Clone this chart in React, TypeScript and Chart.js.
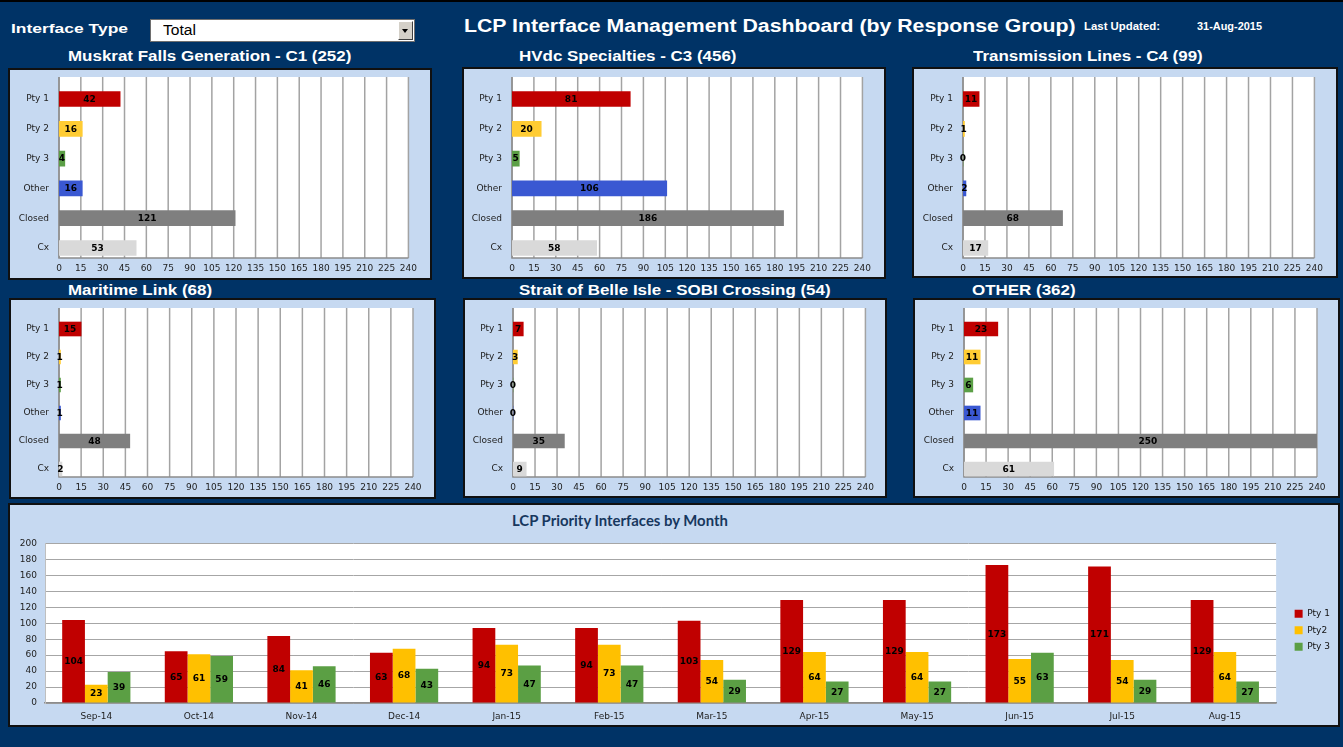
import React, { useEffect, useRef } from "react";
import { Chart, registerables } from "chart.js";

Chart.register(...registerables);

// ---------------- DATA ----------------
const CATEGORIES = ["Pty 1", "Pty 2", "Pty 3", "Other", "Closed", "Cx"];
const muskratFallsValues = [42, 16, 4, 16, 121, 53];
const hvdcValues = [81, 20, 5, 106, 186, 58];
const transmissionValues = [11, 1, 0, 2, 68, 17];
const maritimeValues = [15, 1, 1, 1, 48, 2];
const sobiValues = [7, 3, 0, 0, 35, 9];
const otherValues = [23, 11, 6, 11, 250, 61];
const X_MIN = 0;
const X_MAX = 240;
const X_STEP = 15;

const MONTHS = ["Sep-14", "Oct-14", "Nov-14", "Dec-14", "Jan-15", "Feb-15", "Mar-15", "Apr-15", "May-15", "Jun-15", "Jul-15", "Aug-15"];
const pty1Monthly = [104, 65, 84, 63, 94, 94, 103, 129, 129, 173, 171, 129];
const pty2Monthly = [23, 61, 41, 68, 73, 73, 54, 64, 64, 55, 54, 64];
const pty3Monthly = [39, 59, 46, 43, 47, 47, 29, 27, 27, 63, 29, 27];
const SERIES_NAMES = ["Pty 1", "Pty2", "Pty 3"];
const Y_MIN = 0;
const Y_MAX = 200;
const Y_STEP = 20;

// ---------------- STYLE ----------------
const NAVY = "#003366";
const PANEL_BG = "#C6D9F1";
const SMALL_COLORS = ["#C00000", "#FFCC33", "#5B9F46", "#3A58D2", "#7F7F7F", "#D9D9D9"];
const MONTH_COLORS = ["#C00000", "#FFC000", "#5B9F44"];
const CHART_FONT = "DejaVu Sans";
const HEAD_FONT = '"Liberation Sans", Arial, sans-serif';

const measureCtx: CanvasRenderingContext2D | null =
  typeof document !== "undefined" ? document.createElement("canvas").getContext("2d") : null;

function Txt(props: {
  text: string; x: number; base: number; size: number; weight?: string;
  family?: string; color?: string; width?: number; scale?: number;
}) {
  const { text, x, base, size, weight = "bold", family = HEAD_FONT, color = "#fff", width, scale } = props;
  let k = scale ?? 1;
  let asc = 0.905 * size;
  let desc = 0.212 * size;
  if (measureCtx) {
    measureCtx.font = `${weight} ${size}px ${family}`;
    const m = measureCtx.measureText(text);
    if (width && m.width > 0) k = width / m.width;
    if ((m as any).fontBoundingBoxAscent) {
      asc = (m as any).fontBoundingBoxAscent;
      desc = (m as any).fontBoundingBoxDescent;
    }
  }
  const top = base - ((size - (asc + desc)) / 2 + asc);
  return (
    <div
      style={{
        position: "absolute", left: x, top, fontFamily: family, fontWeight: weight as any,
        fontSize: size, lineHeight: `${size}px`, color, whiteSpace: "nowrap",
        transform: `scaleX(${k})`, transformOrigin: "left top",
      }}
    >
      {text}
    </div>
  );
}

// ---------------- PLUGINS ----------------
const plotFramePlugin = {
  id: "plotFrame",
  beforeDraw(chart: any, _args: any, opts: any) {
    const { ctx, chartArea } = chart;
    const xs = chart.scales.x;
    const top = opts.top;
    const bottom = opts.bottom;
    ctx.save();
    ctx.fillStyle = "#FFFFFF";
    ctx.fillRect(chartArea.left, top, chartArea.right - chartArea.left, bottom - top);
    ctx.strokeStyle = "#A3A3A3";
    ctx.lineWidth = 1.5;
    xs.ticks.forEach((t: any) => {
      const px = xs.getPixelForValue(t.value);
      ctx.beginPath();
      ctx.moveTo(px, top);
      ctx.lineTo(px, bottom);
      ctx.stroke();
    });
    ctx.strokeStyle = "#8C8C8C";
    ctx.beginPath();
    ctx.moveTo(chartArea.left, top);
    ctx.lineTo(chartArea.left, bottom);
    ctx.lineTo(chartArea.right, bottom);
    ctx.stroke();
    ctx.restore();
  },
};

const areaBgPlugin = {
  id: "areaBg",
  beforeDraw(chart: any) {
    const { ctx, chartArea } = chart;
    ctx.save();
    ctx.fillStyle = "#FFFFFF";
    ctx.fillRect(chartArea.left, chartArea.top, chartArea.right - chartArea.left, chartArea.bottom - chartArea.top);
    ctx.restore();
  },
};

const barLabelPlugin = {
  id: "barLabels",
  afterDatasetsDraw(chart: any, _args: any, opts: any) {
    const { ctx } = chart;
    const horizontal = chart.options.indexAxis === "y";
    ctx.save();
    ctx.font = opts.labelFont;
    ctx.fillStyle = "#000";
    ctx.textAlign = "center";
    ctx.textBaseline = "middle";
    chart.data.datasets.forEach((ds: any, di: number) => {
      const meta = chart.getDatasetMeta(di);
      meta.data.forEach((el: any, i: number) => {
        const v = ds.data[i];
        const x = horizontal ? (el.x + el.base) / 2 : el.x;
        const y = horizontal ? el.y : (el.y + el.base) / 2;
        ctx.fillText(String(v), x, y + 0.5);
      });
    });
    ctx.restore();
  },
};

// ---------------- SMALL PANELS ----------------
type Box = { x: number; y: number; w: number; h: number };
type PanelSpec = {
  title: string; values: number[]; box: Box; x0: number; x240: number;
  c0: number; c5: number; wt: number; wb: number; tickY: number; bt: number;
  titleX: number; titleBase: number;
};

const ROW1 = { c0: 99, c5: 248, wt: 77, wb: 258, tickY: 269, bt: 15, titleBase: 61 };
const ROW2 = { c0: 329, c5: 469, wt: 308, wb: 477, tickY: 488, bt: 14, titleBase: 295 };

const PANELS: PanelSpec[] = [
  { title: "Muskrat Falls Generation - C1 (252)", values: muskratFallsValues, box: { x: 8, y: 68, w: 424, h: 212 }, x0: 59, x240: 411, titleX: 68, ...ROW1 },
  { title: "HVdc Specialties - C3 (456)", values: hvdcValues, box: { x: 462, y: 67, w: 424, h: 212 }, x0: 512, x240: 863, titleX: 519, ...ROW1 },
  { title: "Transmission Lines - C4 (99)", values: transmissionValues, box: { x: 912, y: 67, w: 426, h: 211 }, x0: 963, x240: 1315, titleX: 973, ...ROW1 },
  { title: "Maritime Link (68)", values: maritimeValues, box: { x: 9, y: 298, w: 427, h: 201 }, x0: 59, x240: 413, titleX: 68, ...ROW2 },
  { title: "Strait of Belle Isle - SOBI Crossing (54)", values: sobiValues, box: { x: 463, y: 298, w: 424, h: 200 }, x0: 513, x240: 867, titleX: 519, ...ROW2 },
  { title: "OTHER (362)", values: otherValues, box: { x: 913, y: 298, w: 427, h: 200 }, x0: 964, x240: 1317, titleX: 972, ...ROW2 },
];

function SmallPanel({ spec }: { spec: PanelSpec }) {
  const ref = useRef<HTMLCanvasElement>(null);
  const { box } = spec;
  useEffect(() => {
    const { values, x0, x240, c0, c5, wt, wb, tickY, bt } = spec;
    const chart = new Chart(ref.current as HTMLCanvasElement, {
      type: "bar",
      data: {
        labels: CATEGORIES,
        datasets: [
          {
            data: values,
            backgroundColor: SMALL_COLORS,
            borderWidth: 0,
            barThickness: bt,
            clip: { left: 0, top: 12, right: 0, bottom: 12 } as any,
          },
        ],
      },
      options: {
        indexAxis: "y",
        animation: false,
        responsive: false,
        events: [],
        layout: { padding: { left: 0, top: c0 - box.y, right: box.x + box.w - x240, bottom: 0 } },
        plugins: {
          legend: { display: false },
          tooltip: { enabled: false },
          plotFrame: { top: wt - box.y, bottom: wb - box.y },
          barLabels: { labelFont: `bold 9px "${CHART_FONT}"` },
        } as any,
        scales: {
          x: {
            type: "linear",
            min: X_MIN,
            max: X_MAX,
            ticks: {
              stepSize: X_STEP, autoSkip: false, maxRotation: 0, padding: tickY - c5 - 6,
              color: "#222", font: { family: CHART_FONT, size: 9 },
            },
            grid: { display: false, drawTicks: false },
            border: { display: false },
            afterFit: (s: any) => { s.height = box.y + box.h - c5; },
          },
          y: {
            type: "category",
            offset: false,
            ticks: { padding: 10, color: "#222", font: { family: CHART_FONT, size: 9 } },
            grid: { display: false, drawTicks: false },
            border: { display: false },
            afterFit: (s: any) => { s.width = x0 - box.x; },
          },
        } as any,
      },
      plugins: [plotFramePlugin, barLabelPlugin],
    });
    return () => chart.destroy();
  }, []);
  return (
    <>
      <div style={{ position: "absolute", left: box.x, top: box.y, width: box.w, height: box.h }}>
        <div style={{ position: "absolute", left: 0, top: 0, width: box.w, height: box.h, background: PANEL_BG, border: "2px solid #101010", boxSizing: "border-box" }} />
        <canvas ref={ref} width={box.w} height={box.h} style={{ position: "absolute", left: 0, top: 0, width: box.w, height: box.h, display: "block" }} />
      </div>
      <Txt text={spec.title} x={spec.titleX} base={spec.titleBase} size={14} scale={1.21} />
    </>
  );
}

// ---------------- MONTHLY CHART ----------------
const MONTH_BOX = { x: 8, y: 503, w: 1332, h: 224 };
const MONTH_CANVAS = { x: 8, y: 530, w: 1332, h: 197 };

function MonthlyChart() {
  const ref = useRef<HTMLCanvasElement>(null);
  useEffect(() => {
    const seriesData = [pty1Monthly, pty2Monthly, pty3Monthly];
    const chart = new Chart(ref.current as HTMLCanvasElement, {
      type: "bar",
      data: {
        labels: MONTHS,
        datasets: seriesData.map((d, i) => ({
          label: SERIES_NAMES[i],
          data: d,
          backgroundColor: MONTH_COLORS[i],
          borderWidth: 0,
          categoryPercentage: 0.665,
          barPercentage: 1.0,
        })),
      },
      options: {
        animation: false,
        responsive: false,
        events: [],
        layout: { padding: { left: 0, top: 10, right: 0, bottom: 2 } },
        plugins: {
          tooltip: { enabled: false },
          legend: {
            display: true,
            position: "right",
            fullSize: false,
            align: "center",
            title: { display: true, text: " ", padding: 0, font: { size: 11.67 } },
            labels: {
              boxWidth: 8, boxHeight: 8, padding: 7.5, color: "#111",
              font: { family: CHART_FONT, size: 9 },
            },
          },
          barLabels: { labelFont: `bold 9px "${CHART_FONT}"` },
        } as any,
        scales: {
          x: {
            type: "category",
            ticks: { padding: 8, color: "#222", font: { family: CHART_FONT, size: 9 }, maxRotation: 0, autoSkip: false },
            grid: { display: false, drawTicks: false },
            border: { display: true, color: "#8C8C8C", width: 1.5 },
            afterFit: (s: any) => { s.height = 22; },
          },
          y: {
            type: "linear",
            min: Y_MIN,
            max: Y_MAX,
            ticks: { stepSize: Y_STEP, padding: 8, color: "#222", font: { family: CHART_FONT, size: 9 } },
            grid: { color: "#A6A6A6", lineWidth: 1, drawTicks: false },
            border: { display: true, color: "#BFBFBF" },
            afterFit: (s: any) => { s.width = 37; },
          },
          spacer: {
            type: "linear",
            axis: "y",
            position: "right",
            display: true,
            ticks: { display: false },
            grid: { display: false, drawTicks: false },
            border: { display: false },
            afterFit: (s: any) => { s.width = 11; },
          },
        } as any,
      },
      plugins: [areaBgPlugin, barLabelPlugin],
    });
    return () => chart.destroy();
  }, []);
  return (
    <>
      <div style={{ position: "absolute", left: MONTH_BOX.x, top: MONTH_BOX.y, width: MONTH_BOX.w, height: MONTH_BOX.h, background: PANEL_BG, border: "2px solid #101010", boxSizing: "border-box" }} />
      <canvas ref={ref} width={MONTH_CANVAS.w} height={MONTH_CANVAS.h} style={{ position: "absolute", left: MONTH_CANVAS.x, top: MONTH_CANVAS.y, width: MONTH_CANVAS.w, height: MONTH_CANVAS.h, display: "block" }} />
      <Txt text="LCP Priority Interfaces by Month" x={512} base={526} size={15} family="Lato, sans-serif" color="#17375E" width={217} />
    </>
  );
}

// ---------------- HEADER ----------------
function Header() {
  return (
    <>
      <Txt text="Interface Type" x={11} base={33} size={13.5} width={117} />
      <div style={{ position: "absolute", left: 150, top: 19, width: 265, height: 23, background: "#fff", border: "1px solid #6e6e6e", boxSizing: "border-box" }} />
      <Txt text="Total" x={163} base={35} size={14} weight="normal" color="#000" width={33} />
      <div style={{ position: "absolute", left: 398, top: 21, width: 15, height: 19, background: "#D4D0C8", borderTop: "1px solid #fff", borderLeft: "1px solid #fff", borderRight: "1px solid #404040", borderBottom: "1px solid #404040", boxSizing: "border-box" }}>
        <div style={{ position: "absolute", left: 3, top: 7, width: 0, height: 0, borderLeft: "3.5px solid transparent", borderRight: "3.5px solid transparent", borderTop: "4px solid #000" }} />
      </div>
      <Txt text="LCP Interface Management Dashboard (by Response Group)" x={464} base={33} size={17.5} width={612} />
      <Txt text="Last Updated:" x={1084} base={30} size={10} width={76} />
      <Txt text="31-Aug-2015" x={1197} base={30} size={10} width={65} />
    </>
  );
}

export default function App() {
  return (
    <div style={{ position: "fixed", left: 0, top: 0, width: 1343, height: 747, background: NAVY, overflow: "hidden" }}>
      <div style={{ position: "absolute", left: 0, top: 0, width: 1343, height: 2, background: "#000" }} />
      <Header />
      {PANELS.map((p) => (
        <SmallPanel key={p.title} spec={p} />
      ))}
      <MonthlyChart />
    </div>
  );
}
